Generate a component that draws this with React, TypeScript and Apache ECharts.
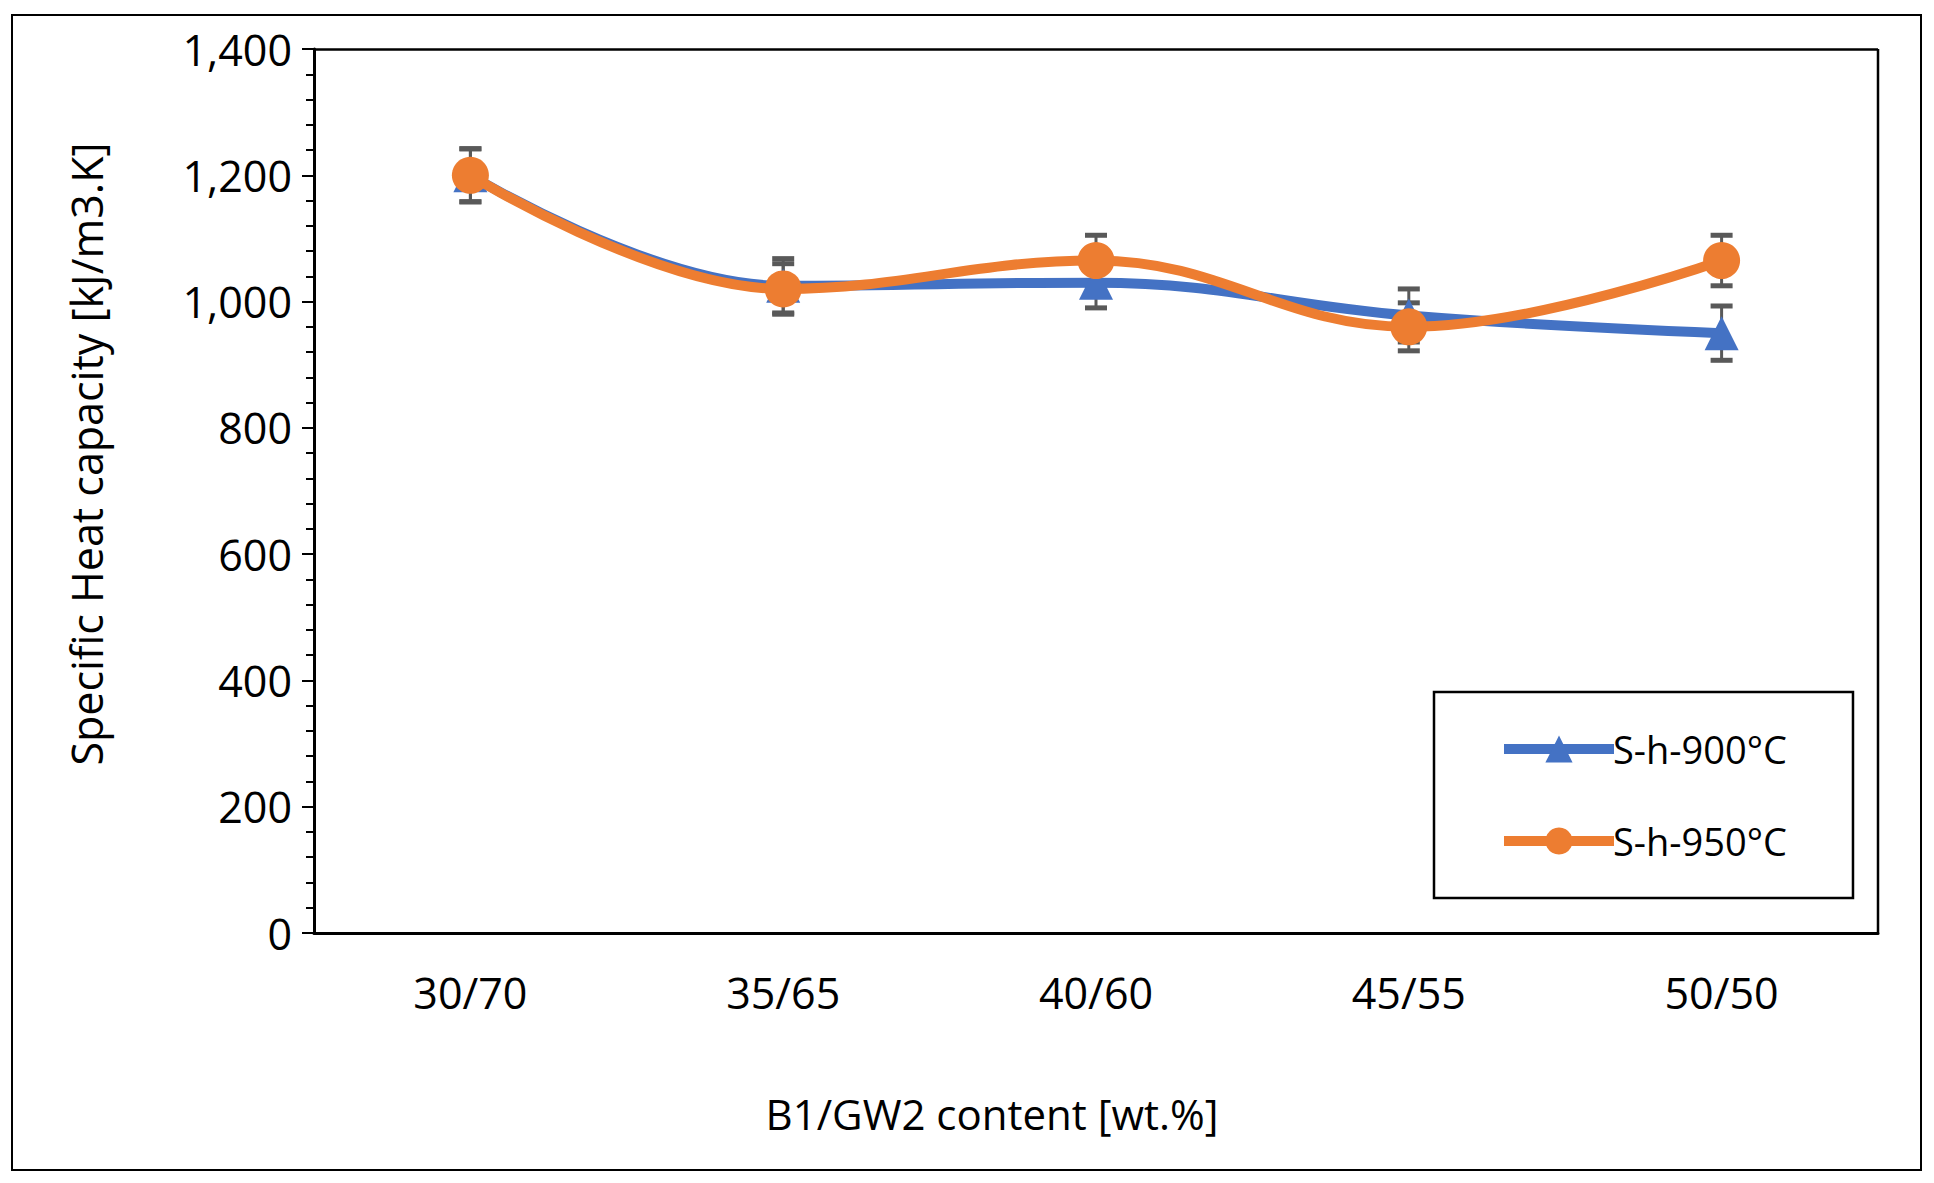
import React from 'react';
import * as echarts from 'echarts';

const categories = ['30/70', '35/65', '40/60', '45/55', '50/50'];
const s900 = [1200, 1025, 1030, 978, 950];
const s950 = [1200, 1020, 1065, 960, 1065];
const err900 = [42, 43, 40, 42, 43];
const err950 = [42, 40, 40, 38, 40];

const FONT = '"Open Sans", sans-serif';

const errorSeries = (vals: number[], errs: number[]) => ({
  type: 'custom',
  z: 1,
  silent: true,
  data: vals.map((v, i) => [i, v - errs[i], v + errs[i]]),
  renderItem: (params: any, api: any) => {
    const lo = api.coord([api.value(0), api.value(1)]);
    const hi = api.coord([api.value(0), api.value(2)]);
    const w = 11;
    const style = { stroke: '#595959', lineWidth: 3 };
    return {
      type: 'group',
      children: [
        { type: 'line', shape: { x1: lo[0], y1: lo[1], x2: hi[0], y2: hi[1] }, style },
        { type: 'line', shape: { x1: lo[0] - w, y1: lo[1], x2: lo[0] + w, y2: lo[1] }, style: { ...style, lineWidth: 5 } },
        { type: 'line', shape: { x1: hi[0] - w, y1: hi[1], x2: hi[0] + w, y2: hi[1] }, style: { ...style, lineWidth: 5 } },
      ],
    };
  },
});

const App: React.FC = () => {
  const ref = React.useRef<HTMLDivElement>(null);

  React.useEffect(() => {
    document.body.style.margin = '0';
    if (!ref.current) return;
    const chart = echarts.init(ref.current, undefined, { renderer: 'svg' });
    chart.setOption({
      animation: false,
      backgroundColor: '#fff',
      graphic: [
        { type: 'rect', shape: { x: 12, y: 15, width: 1909, height: 1155 }, style: { fill: 'none', stroke: '#000', lineWidth: 2 } },
        { type: 'line', shape: { x1: 1878, y1: 49, x2: 1878, y2: 933 }, style: { stroke: '#000', lineWidth: 2.5 } },
        {
          type: 'text', x: 992, y: 1113,
          style: { text: 'B1/GW2 content [wt.%]', font: `42px ${FONT}`, fill: '#000', textAlign: 'center', textVerticalAlign: 'middle' },
        },
        {
          type: 'text', x: 86, y: 454, rotation: Math.PI / 2,
          style: { text: 'Specific Heat capacity [kJ/m3.K]', font: `43px ${FONT}`, fill: '#000', textAlign: 'center', textVerticalAlign: 'middle' },
        },
      ],
      grid: { left: 314, right: 1934 - 1878, top: 49, bottom: 1183 - 933 },
      legend: {
        orient: 'vertical',
        left: 1434,
        top: 692,
        width: 422,
        height: 198,
        padding: [38, 66, 38, 65],
        itemGap: 54,
        itemWidth: 110,
        itemHeight: 34,
        borderColor: '#000',
        borderWidth: 2.5,
        lineStyle: { width: 10 },
        textStyle: { fontFamily: FONT, fontSize: 38, color: '#000', padding: [0, 0, 0, -6] },
        data: ['S-h-900°C', 'S-h-950°C'],
      },
      xAxis: {
        type: 'category',
        data: categories,
        boundaryGap: true,
        axisLine: { lineStyle: { color: '#000', width: 3 } },
        axisTick: { show: false },
        axisLabel: { fontFamily: FONT, fontSize: 43, color: '#000', margin: 38 },
      },
      yAxis: {
        type: 'value',
        min: 0,
        max: 1400,
        interval: 200,
        axisLine: { show: true, lineStyle: { color: '#000', width: 3 } },
        axisTick: { show: true, length: 12, lineStyle: { color: '#000', width: 2 } },
        minorTick: { show: true, splitNumber: 5, length: 8, lineStyle: { color: '#000', width: 2 } },
        splitLine: { show: false },
        axisLabel: { fontFamily: FONT, fontSize: 43, color: '#000', margin: 22 },
      },
      series: [
        {
          type: 'line',
          data: [],
          markLine: {
            silent: true,
            symbol: 'none',
            label: { show: false },
            lineStyle: { color: '#000', width: 2.5, type: 'solid' },
            data: [{ yAxis: 1400 }],
          },
        },
        errorSeries(s900, err900),
        errorSeries(s950, err950),
        {
          name: 'S-h-900°C',
          type: 'line',
          z: 2,
          data: s900,
          smooth: 0.4,
          symbol: 'triangle',
          symbolSize: 34,
          lineStyle: { color: '#4472C4', width: 10 },
          itemStyle: { color: '#4472C4' },
        },
        {
          name: 'S-h-950°C',
          type: 'line',
          z: 3,
          data: s950,
          smooth: 0.4,
          symbol: 'circle',
          symbolSize: 37,
          lineStyle: { color: '#ED7D31', width: 10 },
          itemStyle: { color: '#ED7D31' },
        },
      ],
    });
    return () => chart.dispose();
  }, []);

  return <div ref={ref} style={{ width: 1934, height: 1183 }} />;
};

export default App;
